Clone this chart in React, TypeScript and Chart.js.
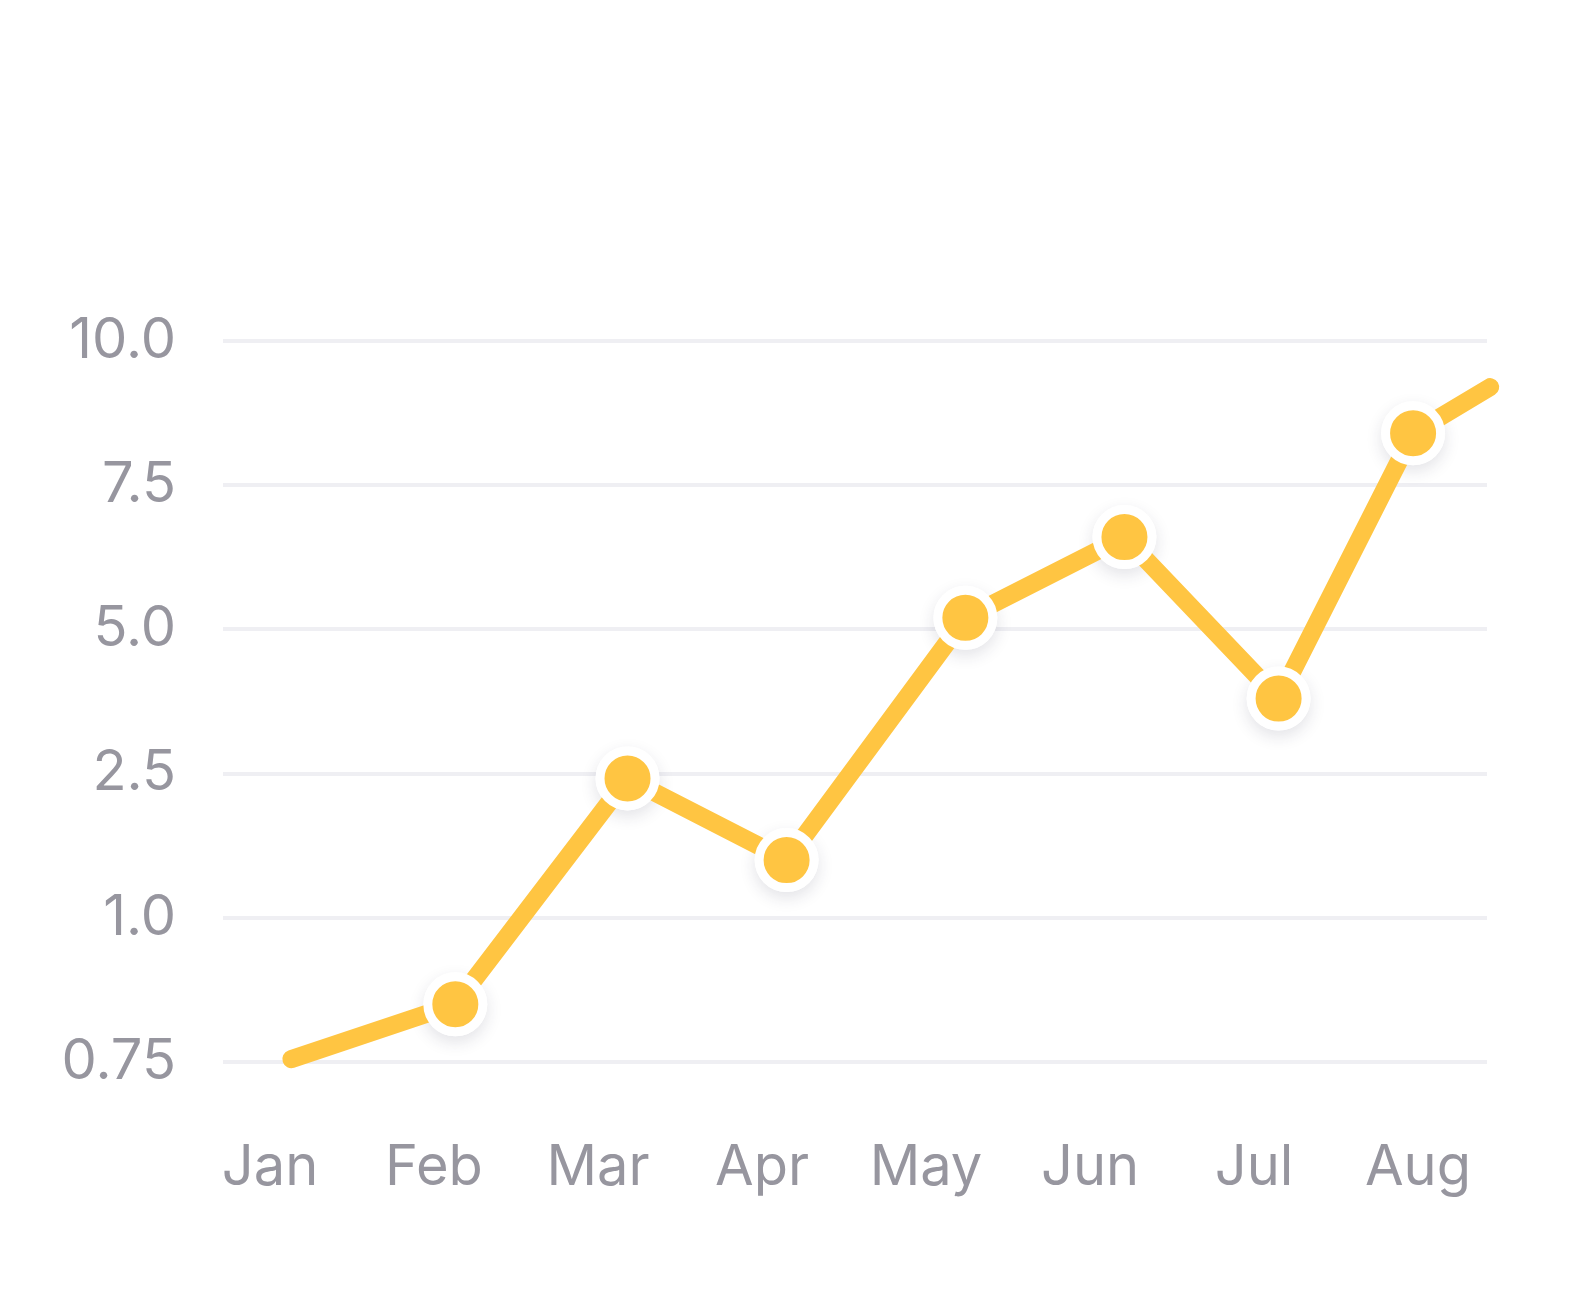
import React, { useEffect, useRef } from "react";
import { Chart, registerables } from "chart.js";

Chart.register(...registerables);

// ---- data ----
const months: string[] = ["Jan", "Feb", "Mar", "Apr", "May", "Jun", "Jul", "Aug"];
const yTickValues: number[] = [0.75, 1.0, 2.5, 5.0, 7.5, 10.0];
const yTickLabels: string[] = ["0.75", "1.0", "2.5", "5.0", "7.5", "10.0"];
// position of each sample along the month axis (0 = Jan)
const samplePosition: number[] = [0.13, 1.13, 2.18, 3.15, 4.24, 5.21, 6.15, 6.97, 7.44];
const sampleValues: number[] = [0.755, 0.85, 2.45, 1.6, 5.2, 6.6, 3.8, 8.4, 9.2];
const showMarker: boolean[] = [false, true, true, true, true, true, true, true, false];

const YELLOW = "#FFC542";
const TEXT = "#97969f";
const GRID = "#efeff3";
const FONT = "Inter, 'Noto Sans', sans-serif";

// the value axis is evenly spaced by tick, not by value: map a value to tick-index space
function toTickSpace(v: number): number {
  for (let i = 0; i < yTickValues.length - 1; i++) {
    const a = yTickValues[i];
    const b = yTickValues[i + 1];
    if (v <= b || i === yTickValues.length - 2) {
      return i + (v - a) / (b - a);
    }
  }
  return 0;
}

const pointShadow = {
  id: "pointShadow",
  beforeDatasetDraw(chart: any, args: any) {
    const ctx = chart.ctx;
    ctx.save();
    ctx.shadowColor = "rgba(40, 40, 70, 0.13)";
    ctx.shadowBlur = 16;
    ctx.shadowOffsetY = 6;
    ctx.fillStyle = "#ffffff";
    args.meta.data.forEach((el: any) => {
      const r = el.options.radius;
      if (!r) return;
      ctx.beginPath();
      ctx.arc(el.x, el.y, r + el.options.borderWidth / 2, 0, Math.PI * 2);
      ctx.fill();
    });
    ctx.restore();
  },
};

export default function App() {
  const ref = useRef<HTMLCanvasElement>(null);

  useEffect(() => {
    if (!ref.current) return;
    const data = samplePosition.map((x, i) => ({ x, y: toTickSpace(sampleValues[i]) }));
    const chart = new Chart(ref.current, {
      type: "line",
      data: {
        datasets: [
          {
            data,
            borderColor: YELLOW,
            borderWidth: 18,
            borderCapStyle: "round",
            borderJoinStyle: "round",
            tension: 0,
            clip: false as any,
            pointRadius: showMarker.map((s) => (s ? 27.5 : 0)),
            pointHoverRadius: showMarker.map((s) => (s ? 27.5 : 0)),
            pointBackgroundColor: YELLOW,
            pointBorderColor: "#ffffff",
            pointBorderWidth: 9,
            pointHoverBorderWidth: 9,
          },
        ],
      },
      options: {
        animation: false,
        responsive: false,
        events: [],
        layout: { padding: { left: 0, top: 341, right: 93, bottom: 94 } },
        plugins: { legend: { display: false }, tooltip: { enabled: false } },
        scales: {
          x: {
            type: "linear",
            min: -0.2866,
            max: 7.4207,
            grid: { display: false, drawTicks: false },
            border: { display: false },
            afterBuildTicks: (scale: any) => {
              scale.ticks = months.map((_, i) => ({ value: i }));
            },
            afterFit: (scale: any) => {
              scale.height = 150;
            },
            ticks: {
              autoSkip: false,
              maxRotation: 0,
              padding: 73,
              color: TEXT,
              font: { family: FONT, size: 56 },
              callback: (v: any) => months[Math.round(Number(v))],
            },
          },
          y: {
            type: "linear",
            min: 0,
            max: yTickValues.length - 1,
            grid: { color: GRID, lineWidth: 4, drawTicks: false },
            border: { display: false },
            afterFit: (scale: any) => {
              scale.width = 223;
            },
            ticks: {
              stepSize: 1,
              padding: 47,
              color: TEXT,
              font: { family: FONT, size: 56 },
              callback: (v: any) => yTickLabels[Math.round(Number(v))],
            },
          },
        },
      },
      plugins: [pointShadow],
    });
    return () => chart.destroy();
  }, []);

  return (
    <div style={{ position: "fixed", left: 0, top: 0, width: 1580, height: 1306, background: "#ffffff" }}>
      <canvas ref={ref} width={1580} height={1306} style={{ display: "block" }} />
    </div>
  );
}
